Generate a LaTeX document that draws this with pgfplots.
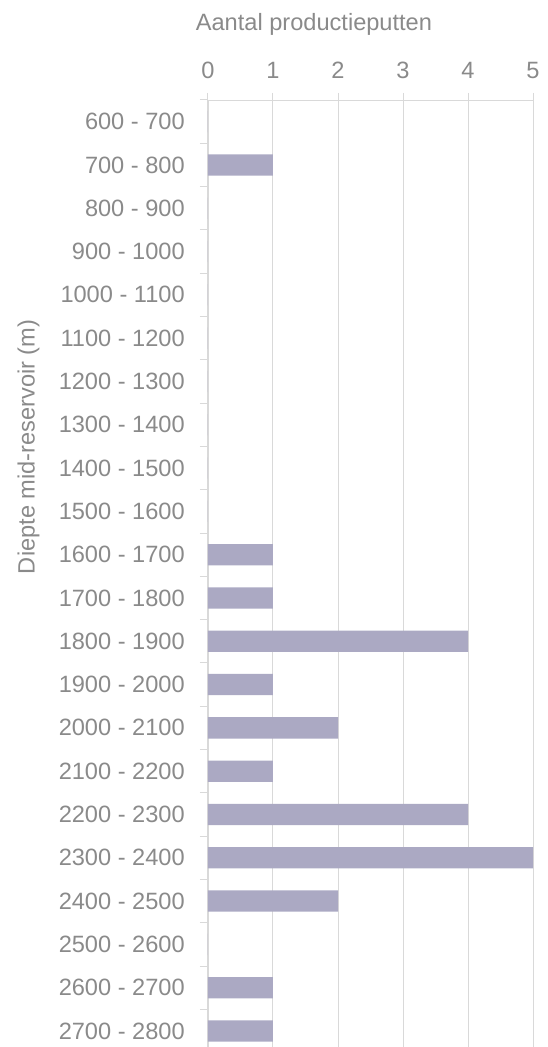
\documentclass[border=0pt]{standalone}
\usepackage{fontspec}
\setmainfont{Liberation Sans}
\usepackage{pgfplots}
\pgfplotsset{compat=1.18}

\definecolor{barfill}{HTML}{ABA9C3}
\definecolor{txtgray}{HTML}{8A8A8A}
\definecolor{gridgray}{HTML}{D9D9D9}

% Number of production wells per mid-reservoir depth class (m)
\pgfplotstableread{
idx val
0  0
1  1
2  0
3  0
4  0
5  0
6  0
7  0
8  0
9  0
10 1
11 1
12 4
13 1
14 2
15 1
16 4
17 5
18 2
19 0
20 1
21 1
}\wells

\begin{document}
\fontsize{11.8pt}{14pt}\selectfont
\begin{tikzpicture}
\begin{axis}[
  scale only axis,
  width=162.5pt, height=476.3pt,
  xmin=0, xmax=5,
  ymin=-0.5, ymax=21.5,
  y dir=reverse,
  axis x line*=top,
  axis y line*=left,
  axis line style={-, draw=gridgray},
  xtick={0,...,5},
  xmajorgrids,
  grid style={draw=gridgray, line width=0.5pt},
  ytick={0,...,21},
  yticklabels={600 - 700,700 - 800,800 - 900,900 - 1000,1000 - 1100,1100 - 1200,1200 - 1300,1300 - 1400,1400 - 1500,1500 - 1600,1600 - 1700,1700 - 1800,1800 - 1900,1900 - 2000,2000 - 2100,2100 - 2200,2200 - 2300,2300 - 2400,2400 - 2500,2500 - 2600,2600 - 2700,2700 - 2800},
  minor ytick={-0.5,0.5,...,21.5},
  tick align=outside,
  major tick length=3.5pt,
  minor tick length=4pt,
  major x tick style={draw=gridgray, line width=0.5pt},
  major y tick style={draw=none},
  minor y tick style={draw=gridgray, line width=0.5pt},
  tick label style={text=txtgray, font=\fontsize{11.8pt}{14pt}\selectfont},
  xticklabel style={yshift=3pt},
  yticklabel style={xshift=-4pt},
  /pgf/number format/assume math mode=true,
  clip=false,
]
\addplot[xbar, bar width=10.65pt, fill=barfill, draw=none, bar shift=0pt]
  table[x=val, y=idx] {\wells};
\coordinate (tl) at (axis cs:0,-0.5);
\node[text=txtgray, inner sep=0pt] at ([yshift=38pt]axis cs:1.63,-0.5) {Aantal productieputten};
\node[text=txtgray, inner sep=0pt, rotate=90] at ([xshift=-89.75pt]axis cs:0,7.51) {Diepte mid-reservoir (m)};
\end{axis}
\pgfresetboundingbox
\useasboundingbox ([shift={(-104pt,50pt)}]tl) rectangle ([shift={(169.5pt,-473.5pt)}]tl);
\end{tikzpicture}
\end{document}
